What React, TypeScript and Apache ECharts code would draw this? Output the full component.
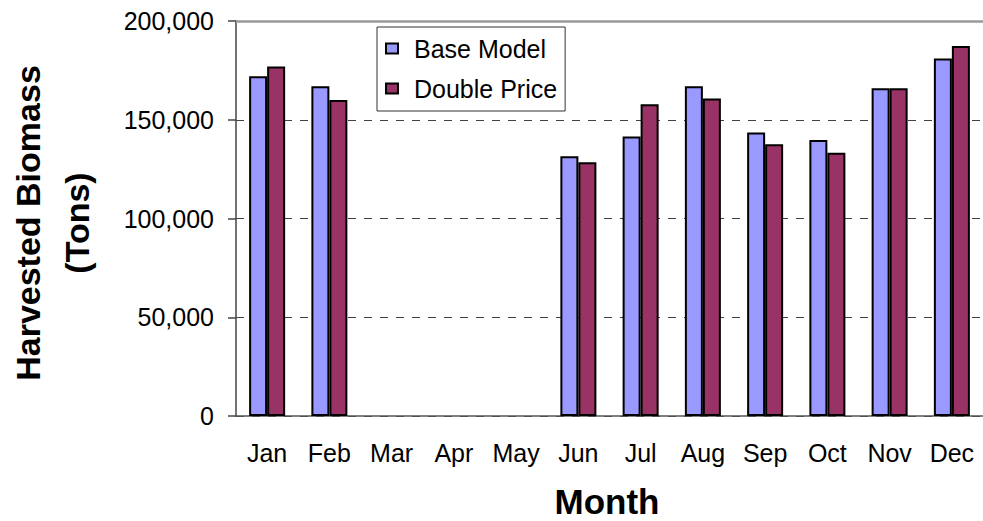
import React, { useEffect, useRef } from "react";
import * as echarts from "echarts";

const months = ["Jan", "Feb", "Mar", "Apr", "May", "Jun", "Jul", "Aug", "Sep", "Oct", "Nov", "Dec"];
const baseModel = [172000, 167000, 0, 0, 0, 131500, 141500, 167000, 143500, 139700, 166000, 181000];
const doublePrice = [177000, 160000, 0, 0, 0, 128500, 157800, 160800, 137600, 133300, 166000, 187300];
const yTicks = { min: 0, max: 200000, interval: 50000 };

const FONT = "'Liberation Sans', Arial, Helvetica, sans-serif";

// zero-height bars are not drawn (no visible mark in the reference)
const toBars = (arr: number[]) => arr.map((v) => (v === 0 ? null : v));

export default function App() {
  const ref = useRef<HTMLDivElement>(null);
  useEffect(() => {
    if (!ref.current) return;
    const chart = echarts.init(ref.current, undefined, { renderer: "svg" });
    chart.setOption({
      animation: false,
      backgroundColor: "#ffffff",
      textStyle: { fontFamily: FONT },
      grid: { left: 236, right: -2, top: 21, bottom: 105, containLabel: false },
      legend: {
        orient: "vertical",
        left: 377,
        top: 27,
        padding: [9, 8, 10, 8],
        itemGap: 15,
        itemWidth: 12,
        itemHeight: 10,
        icon: "rect",
        borderColor: "#333",
        borderWidth: 1,
        backgroundColor: "#fff",
        textStyle: { fontFamily: FONT, fontSize: 25, color: "#000", padding: [0, 0, 0, 11] },
        data: ["Base Model", "Double Price"],
      },
      xAxis: {
        type: "category",
        data: months,
        boundaryGap: true,
        axisLine: { lineStyle: { color: "#555", width: 1.5 } },
        axisTick: { length: 8, lineStyle: { color: "#666", width: 1.5 } },
        axisLabel: { fontFamily: FONT, fontSize: 25, color: "#000", margin: 24, interval: 0 },
      },
      yAxis: {
        type: "value",
        min: yTicks.min,
        max: yTicks.max,
        interval: yTicks.interval,
        axisLine: { show: true, lineStyle: { color: "#444", width: 1.5 } },
        axisTick: { show: true, inside: false, length: 8, lineStyle: { color: "#444", width: 1.5 } },
        axisLabel: {
          fontFamily: FONT,
          fontSize: 25,
          color: "#000",
          margin: 22,
          formatter: (v: number) => v.toLocaleString("en-US"),
        },
        splitLine: { show: true, lineStyle: { color: "#444", width: 1, type: [8, 8] } },
      },
      series: [
        {
          name: "Base Model",
          type: "bar",
          data: toBars(baseModel),
          barWidth: 18,
          barGap: "0%",
          itemStyle: { color: "#9999FF", borderColor: "#000", borderWidth: 2 },
          markLine: {
            silent: true,
            symbol: "none",
            label: { show: false },
            lineStyle: { color: "#9a9a9a", type: "solid", width: 2.5 },
            data: [{ yAxis: 200000 }],
          },
        },
        {
          name: "Double Price",
          type: "bar",
          data: toBars(doublePrice),
          barWidth: 18,
          barGap: "0%",
          itemStyle: { color: "#993366", borderColor: "#000", borderWidth: 2 },
        },
      ],
      graphic: [
        {
          type: "text",
          x: 52,
          y: 223,
          rotation: Math.PI / 2,
          style: {
            text: "Harvested Biomass\n(Tons)",
            fontFamily: FONT,
            fontSize: 34,
            fontWeight: "bold",
            lineHeight: 49,
            fill: "#000",
            textAlign: "center",
            textVerticalAlign: "middle",
          },
        },
        {
          type: "text",
          x: 607,
          y: 501,
          style: {
            text: "Month",
            fontFamily: FONT,
            fontSize: 35,
            fontWeight: "bold",
            fill: "#000",
            textAlign: "center",
            textVerticalAlign: "middle",
          },
        },
      ],
    });
    return () => chart.dispose();
  }, []);
  return (
    <div
      ref={ref}
      style={{ position: "fixed", left: 0, top: 0, width: 983, height: 521, background: "#fff" }}
    />
  );
}
